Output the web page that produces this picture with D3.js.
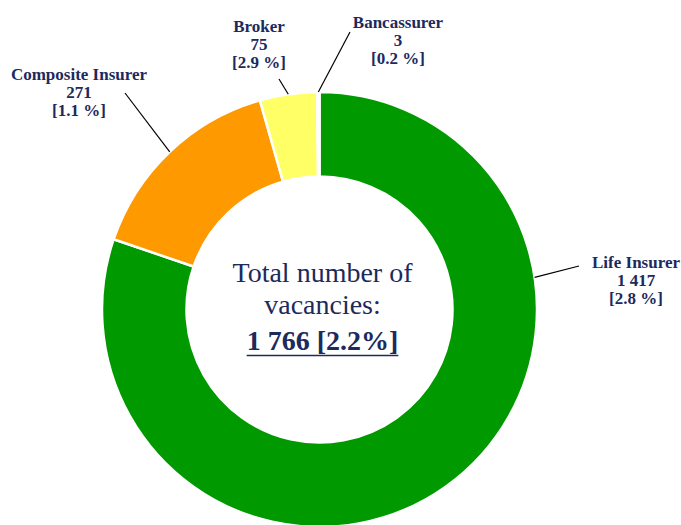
<!DOCTYPE html>
<html>
<head>
<meta charset="utf-8">
<script src="https://cdn.jsdelivr.net/npm/d3@7"></script>
<style>
  body { margin: 0; background: #fff; }
</style>
</head>
<body>
<svg id="chart" width="681" height="525"></svg>
<script>
// data
var categories = ["Life Insurer", "Composite Insurer", "Broker", "Bancassurer"];
var vacancies = [1417, 271, 75, 3];
var shareLabels = ["[2.8 %]", "[1.1 %]", "[2.9 %]", "[0.2 %]"];
var valueLabels = ["1 417", "271", "75", "3"];
var totalLines = ["Total number of", "vacancies:"];
var totalLabel = "1 766 [2.2%]";

var colors = ["#009900", "#ff9900", "#ffff66", "#ffffff"];
var font = "'Liberation Serif', 'Times New Roman', Times, 'DejaVu Serif', serif";
var ink = "#1c2a5c";

// label placement: anchor of the text block, where the leader starts,
// and the angle (deg, clockwise from top) where it touches the ring
var labelPos = [
    {x: 636, y: 268, lx: 579, ly: 266, ang: 81.5},
    {x: 79, y: 80, lx: 125, ly: 93, ang: null},
    {x: 259, y: 32, lx: 279, ly: 79, ang: null},
    {x: 398, y: 28, lx: 350, ly: 32, ang: null}
];

function drawDonut() {
    var cx = 319.5, cy = 309.5,
        outer = 217.5, inner = 133;

    var svg = d3.select("#chart");
    var g = svg.append("g")
        .attr("transform", "translate(" + cx + "," + cy + ")");

    var data = categories.map(function(c, i) {
        return {name: c, value: vacancies[i], i: i};
    });

    var pie = d3.pie()
        .sort(null)
        .value(function(d) { return d.value; });

    var arc = d3.arc()
        .innerRadius(inner)
        .outerRadius(outer);

    var arcs = pie(data);

    g.selectAll(".slice")
            .data(arcs)
        .enter().append("path")
            .attr("class", "slice")
            .attr("d", arc)
            .attr("fill", function(d) { return colors[d.data.i]; })
            .attr("stroke", "#fff")
            .attr("stroke-width", 2.5)
            .attr("stroke-linejoin", "round");

    // leader lines
    arcs.forEach(function(d) {
        var p = labelPos[d.data.i];
        var a = p.ang != null ? p.ang * Math.PI / 180 : (d.startAngle + d.endAngle) / 2;
        var ex = outer * Math.sin(a), ey = -outer * Math.cos(a);
        g.append("line")
            .attr("x1", p.lx - cx).attr("y1", p.ly - cy)
            .attr("x2", ex).attr("y2", ey)
            .attr("stroke", "#000")
            .attr("stroke-width", 1.2);
    });

    // slice labels
    data.forEach(function(d) {
        var p = labelPos[d.i];
        var t = svg.append("text")
            .attr("x", p.x).attr("y", p.y)
            .attr("text-anchor", "middle")
            .attr("font-family", font)
            .attr("fill", ink)
            .attr("font-size", 17)
            .attr("font-weight", "bold");
        [d.name, valueLabels[d.i], shareLabels[d.i]].forEach(function(s, k) {
            t.append("tspan")
                .attr("x", p.x)
                .attr("dy", k === 0 ? 0 : "1.05em")
                .text(s);
        });
    });

    // centre text
    totalLines.forEach(function(s, k) {
        svg.append("text")
            .attr("x", cx + 3).attr("y", 282 + k * 32)
            .attr("text-anchor", "middle")
            .attr("font-family", font)
            .attr("fill", ink)
            .attr("font-size", 28)
            .text(s);
    });
    var tot = svg.append("text")
        .attr("x", cx + 3).attr("y", 350)
        .attr("text-anchor", "middle")
        .attr("font-family", font)
        .attr("fill", ink)
        .attr("font-size", 28)
        .attr("font-weight", "bold")
        .text(totalLabel);
    var bb = tot.node().getBBox();
    svg.append("line")
        .attr("x1", bb.x).attr("x2", bb.x + bb.width)
        .attr("y1", 355.5).attr("y2", 355.5)
        .attr("stroke", ink)
        .attr("stroke-width", 1.5);
}

drawDonut();
</script>
</body>
</html>
